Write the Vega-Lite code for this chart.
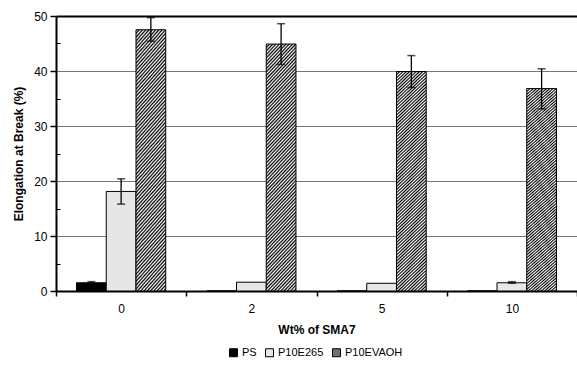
{
  "$schema": "https://vega.github.io/schema/vega-lite/v6.json",
  "width": 521,
  "height": 275,
  "autosize": {"type": "none"},
  "padding": {"left": 56, "top": 16, "right": 0, "bottom": 79},
  "background": "white",
  "config": {"view": {"stroke": null}, "font": "Liberation Sans"},
  "data": {
    "values": [
      {"wt": "0", "series": "PS", "value": 1.5, "lo": 1.3, "hi": 1.7},
      {"wt": "0", "series": "P10E265", "value": 18.1, "lo": 15.8, "hi": 20.4},
      {"wt": "0", "series": "P10EVAOH", "value": 47.5, "lo": 45.4, "hi": 49.7},
      {"wt": "2", "series": "PS", "value": 0, "lo": null, "hi": null},
      {"wt": "2", "series": "P10E265", "value": 1.6, "lo": null, "hi": null},
      {"wt": "2", "series": "P10EVAOH", "value": 44.9, "lo": 41.2, "hi": 48.6},
      {"wt": "5", "series": "PS", "value": 0, "lo": null, "hi": null},
      {"wt": "5", "series": "P10E265", "value": 1.4, "lo": null, "hi": null},
      {"wt": "5", "series": "P10EVAOH", "value": 39.9, "lo": 37.0, "hi": 42.8},
      {"wt": "10", "series": "PS", "value": 0, "lo": null, "hi": null},
      {"wt": "10", "series": "P10E265", "value": 1.5, "lo": 1.4, "hi": 1.7},
      {"wt": "10", "series": "P10EVAOH", "value": 36.8, "lo": 33.1, "hi": 40.4}
    ]
  },
  "encoding": {
    "x": {
      "field": "wt", "type": "nominal", "sort": ["0", "2", "5", "10"],
      "scale": {"paddingInner": 0, "paddingOuter": 0},
      "axis": {
        "orient": "bottom", "tickBand": "extent", "labelAngle": 0,
        "domainColor": "black", "domainWidth": 2,
        "tickColor": "black", "tickWidth": 1.5, "tickSize": 5,
        "labelFontSize": 12, "labelPadding": 7, "labelColor": "black",
        "title": "Wt% of SMA7", "titleFontSize": 12, "titleFontWeight": "bold",
        "titlePadding": 10, "titleColor": "black", "grid": false
      }
    },
    "xOffset": {
      "field": "series", "type": "nominal",
      "scale": {"domain": ["PS", "P10E265", "P10EVAOH"], "paddingInner": 0, "paddingOuter": 0.69}
    }
  },
  "layer": [
    {
      "transform": [{"filter": "datum.series === 'PS'"}],
      "mark": {"type": "bar", "stroke": "black", "strokeWidth": 1},
      "encoding": {
        "y": {
          "field": "value", "type": "quantitative",
          "scale": {"domain": [0, 50]},
          "axis": {
            "values": [0, 10, 20, 30, 40, 50],
            "domainColor": "black", "domainWidth": 2,
            "tickColor": "black", "tickWidth": 1.5, "tickSize": 6,
            "labelFontSize": 12, "labelPadding": 3, "labelColor": "black",
            "grid": true,
            "gridColor": {"condition": {"test": "datum.value === 50", "value": "black"}, "value": "#777777"},
            "gridWidth": {"condition": {"test": "datum.value === 50", "value": 2}, "value": 1},
            "title": "Elongation at Break (%)", "titleFontSize": 12, "titleFontWeight": "bold",
            "titlePadding": 8, "titleColor": "black"
          }
        },
        "fill": {
          "field": "series", "type": "nominal",
          "scale": {"domain": ["PS", "P10E265", "P10EVAOH"], "range": ["black", "#e6e6e6", "#707070"]},
          "legend": {
            "orient": "none", "legendX": 172, "legendY": 331,
            "direction": "horizontal", "title": null,
            "symbolType": "square", "symbolSize": 64,
            "symbolStrokeColor": "black", "symbolStrokeWidth": 1, "symbolOpacity": 1,
            "labelFontSize": 11, "labelColor": "black",
            "columnPadding": 6, "labelOffset": 3
          }
        }
      }
    },
    {
      "transform": [{"filter": "datum.series === 'P10E265'"}],
      "mark": {"type": "bar", "fill": "#e6e6e6", "stroke": "black", "strokeWidth": 1},
      "encoding": {"y": {"field": "value", "type": "quantitative", "scale": {"domain": [0, 50]}, "axis": null}}
    },
    {
      "transform": [{"filter": "datum.series === 'P10EVAOH'"}],
      "mark": {
        "type": "bar", "stroke": "black", "strokeWidth": 1,
        "fill": {"gradient": "linear", "x1": 0, "y1": 0, "x2": 0.143, "y2": 1.115, "stops": [
          {"offset":0,"color":"#000"},{"offset":0.00625,"color":"#fff"},{"offset":0.0125,"color":"#000"},{"offset":0.01875,"color":"#fff"},{"offset":0.025,"color":"#000"},{"offset":0.03125,"color":"#fff"},{"offset":0.0375,"color":"#000"},{"offset":0.04375,"color":"#fff"},{"offset":0.05,"color":"#000"},{"offset":0.05625,"color":"#fff"},{"offset":0.0625,"color":"#000"},{"offset":0.06875,"color":"#fff"},{"offset":0.075,"color":"#000"},{"offset":0.08125,"color":"#fff"},{"offset":0.0875,"color":"#000"},{"offset":0.09375,"color":"#fff"},
          {"offset":0.1,"color":"#000"},{"offset":0.10625,"color":"#fff"},{"offset":0.1125,"color":"#000"},{"offset":0.11875,"color":"#fff"},{"offset":0.125,"color":"#000"},{"offset":0.13125,"color":"#fff"},{"offset":0.1375,"color":"#000"},{"offset":0.14375,"color":"#fff"},{"offset":0.15,"color":"#000"},{"offset":0.15625,"color":"#fff"},{"offset":0.1625,"color":"#000"},{"offset":0.16875,"color":"#fff"},{"offset":0.175,"color":"#000"},{"offset":0.18125,"color":"#fff"},{"offset":0.1875,"color":"#000"},{"offset":0.19375,"color":"#fff"},
          {"offset":0.2,"color":"#000"},{"offset":0.20625,"color":"#fff"},{"offset":0.2125,"color":"#000"},{"offset":0.21875,"color":"#fff"},{"offset":0.225,"color":"#000"},{"offset":0.23125,"color":"#fff"},{"offset":0.2375,"color":"#000"},{"offset":0.24375,"color":"#fff"},{"offset":0.25,"color":"#000"},{"offset":0.25625,"color":"#fff"},{"offset":0.2625,"color":"#000"},{"offset":0.26875,"color":"#fff"},{"offset":0.275,"color":"#000"},{"offset":0.28125,"color":"#fff"},{"offset":0.2875,"color":"#000"},{"offset":0.29375,"color":"#fff"},
          {"offset":0.3,"color":"#000"},{"offset":0.30625,"color":"#fff"},{"offset":0.3125,"color":"#000"},{"offset":0.31875,"color":"#fff"},{"offset":0.325,"color":"#000"},{"offset":0.33125,"color":"#fff"},{"offset":0.3375,"color":"#000"},{"offset":0.34375,"color":"#fff"},{"offset":0.35,"color":"#000"},{"offset":0.35625,"color":"#fff"},{"offset":0.3625,"color":"#000"},{"offset":0.36875,"color":"#fff"},{"offset":0.375,"color":"#000"},{"offset":0.38125,"color":"#fff"},{"offset":0.3875,"color":"#000"},{"offset":0.39375,"color":"#fff"},
          {"offset":0.4,"color":"#000"},{"offset":0.40625,"color":"#fff"},{"offset":0.4125,"color":"#000"},{"offset":0.41875,"color":"#fff"},{"offset":0.425,"color":"#000"},{"offset":0.43125,"color":"#fff"},{"offset":0.4375,"color":"#000"},{"offset":0.44375,"color":"#fff"},{"offset":0.45,"color":"#000"},{"offset":0.45625,"color":"#fff"},{"offset":0.4625,"color":"#000"},{"offset":0.46875,"color":"#fff"},{"offset":0.475,"color":"#000"},{"offset":0.48125,"color":"#fff"},{"offset":0.4875,"color":"#000"},{"offset":0.49375,"color":"#fff"},
          {"offset":0.5,"color":"#000"},{"offset":0.50625,"color":"#fff"},{"offset":0.5125,"color":"#000"},{"offset":0.51875,"color":"#fff"},{"offset":0.525,"color":"#000"},{"offset":0.53125,"color":"#fff"},{"offset":0.5375,"color":"#000"},{"offset":0.54375,"color":"#fff"},{"offset":0.55,"color":"#000"},{"offset":0.55625,"color":"#fff"},{"offset":0.5625,"color":"#000"},{"offset":0.56875,"color":"#fff"},{"offset":0.575,"color":"#000"},{"offset":0.58125,"color":"#fff"},{"offset":0.5875,"color":"#000"},{"offset":0.59375,"color":"#fff"},
          {"offset":0.6,"color":"#000"},{"offset":0.60625,"color":"#fff"},{"offset":0.6125,"color":"#000"},{"offset":0.61875,"color":"#fff"},{"offset":0.625,"color":"#000"},{"offset":0.63125,"color":"#fff"},{"offset":0.6375,"color":"#000"},{"offset":0.64375,"color":"#fff"},{"offset":0.65,"color":"#000"},{"offset":0.65625,"color":"#fff"},{"offset":0.6625,"color":"#000"},{"offset":0.66875,"color":"#fff"},{"offset":0.675,"color":"#000"},{"offset":0.68125,"color":"#fff"},{"offset":0.6875,"color":"#000"},{"offset":0.69375,"color":"#fff"},
          {"offset":0.7,"color":"#000"},{"offset":0.70625,"color":"#fff"},{"offset":0.7125,"color":"#000"},{"offset":0.71875,"color":"#fff"},{"offset":0.725,"color":"#000"},{"offset":0.73125,"color":"#fff"},{"offset":0.7375,"color":"#000"},{"offset":0.74375,"color":"#fff"},{"offset":0.75,"color":"#000"},{"offset":0.75625,"color":"#fff"},{"offset":0.7625,"color":"#000"},{"offset":0.76875,"color":"#fff"},{"offset":0.775,"color":"#000"},{"offset":0.78125,"color":"#fff"},{"offset":0.7875,"color":"#000"},{"offset":0.79375,"color":"#fff"},
          {"offset":0.8,"color":"#000"},{"offset":0.80625,"color":"#fff"},{"offset":0.8125,"color":"#000"},{"offset":0.81875,"color":"#fff"},{"offset":0.825,"color":"#000"},{"offset":0.83125,"color":"#fff"},{"offset":0.8375,"color":"#000"},{"offset":0.84375,"color":"#fff"},{"offset":0.85,"color":"#000"},{"offset":0.85625,"color":"#fff"},{"offset":0.8625,"color":"#000"},{"offset":0.86875,"color":"#fff"},{"offset":0.875,"color":"#000"},{"offset":0.88125,"color":"#fff"},{"offset":0.8875,"color":"#000"},{"offset":0.89375,"color":"#fff"},
          {"offset":0.9,"color":"#000"},{"offset":0.90625,"color":"#fff"},{"offset":0.9125,"color":"#000"},{"offset":0.91875,"color":"#fff"},{"offset":0.925,"color":"#000"},{"offset":0.93125,"color":"#fff"},{"offset":0.9375,"color":"#000"},{"offset":0.94375,"color":"#fff"},{"offset":0.95,"color":"#000"},{"offset":0.95625,"color":"#fff"},{"offset":0.9625,"color":"#000"},{"offset":0.96875,"color":"#fff"},{"offset":0.975,"color":"#000"},{"offset":0.98125,"color":"#fff"},{"offset":0.9875,"color":"#000"},{"offset":0.99375,"color":"#fff"},
          {"offset":1,"color":"#000"}
        ]}
      },
      "encoding": {"y": {"field": "value", "type": "quantitative", "scale": {"domain": [0, 50]}, "axis": null}}
    },
    {
      "mark": {"type": "rule", "color": "black", "strokeWidth": 1.3},
      "encoding": {
        "y": {
          "field": "lo", "type": "quantitative", "scale": {"domain": [0, 50]},
          "axis": {
            "orient": "left", "values": [5, 15, 25, 35, 45], "labels": false,
            "domain": false, "grid": false, "ticks": true, "tickSize": -4,
            "tickColor": "black", "tickWidth": 1, "title": null
          }
        },
        "y2": {"field": "hi"}
      }
    },
    {
      "mark": {"type": "tick", "color": "black", "size": 8, "thickness": 1.5},
      "encoding": {"y": {"field": "hi", "type": "quantitative", "scale": {"domain": [0, 50]}, "axis": null}}
    },
    {
      "mark": {"type": "tick", "color": "black", "size": 8, "thickness": 1.5},
      "encoding": {"y": {"field": "lo", "type": "quantitative", "scale": {"domain": [0, 50]}, "axis": null}}
    }
  ],
  "resolve": {"axis": {"y": "independent"}}
}
